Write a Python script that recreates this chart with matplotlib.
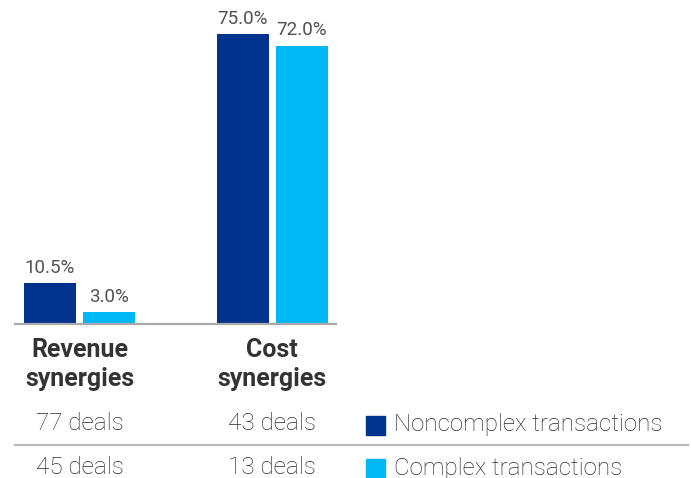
import matplotlib.pyplot as plt
import matplotlib.transforms as mtransforms
from matplotlib.patches import Rectangle

categories = ['Revenue\nsynergies', 'Cost\nsynergies']
noncomplex = [10.5, 75.0]
complex_ = [3.0, 72.0]
noncomplex_deals = ['77 deals', '43 deals']
complex_deals = ['45 deals', '13 deals']
series_names = ['Noncomplex transactions', 'Complex transactions']

DARK = '#00338D'
LIGHT = '#00B8F5'
W, H = 691, 478

plt.rcParams['font.family'] = ['Roboto', 'DejaVu Sans']

fig = plt.figure(figsize=(W / 100, H / 100), dpi=100)

def fy(py):
    # pixel row from the top -> figure fraction
    return 1 - py / H

# axes: x 15..336 px, baseline at y=324, 0..80 % mapped to 309 px
ax = fig.add_axes([15 / W, fy(324), (336 - 15) / W, 309.3 / H])
ax.set_ylim(0, 80)
ax.set_xlim(-0.335, 1.332)

x = list(range(len(categories)))
off = 0.153
wid = 0.27
b1 = ax.bar([i - off for i in x], noncomplex, wid, color=DARK)
b2 = ax.bar([i + off for i in x], complex_, wid, color=LIGHT)

for bars, vals in ((b1, noncomplex), (b2, complex_)):
    for r, v in zip(bars, vals):
        ax.text(r.get_x() + r.get_width() / 2, v + 1.6, f'{v:.1f}%',
                ha='center', va='bottom', fontsize=13.5, color='#505050')

for s in ['top', 'right', 'left']:
    ax.spines[s].set_visible(False)
ax.spines['bottom'].set_color('#aaaaaa')
ax.spines['bottom'].set_linewidth(1.6)
ax.set_yticks([])
ax.set_xticks(x)
ax.set_xticklabels(categories, fontsize=18, fontweight='bold', color='#333333',
                   linespacing=1.28)
ax.tick_params(axis='x', length=0, pad=10)

# deal counts below the chart
trans = mtransforms.blended_transform_factory(ax.transData, fig.transFigure)
for i in x:
    ax.text(i, fy(424), noncomplex_deals[i], transform=trans, ha='center',
            va='center', fontsize=17.5, color='#2a2a2a', clip_on=False,
            fontweight='light')
    ax.text(i, fy(467), complex_deals[i], transform=trans, ha='center',
            va='center', fontsize=17.5, color='#2a2a2a', clip_on=False,
            fontweight='light')

# separator line
fig.add_artist(plt.Line2D([15 / W, 688 / W], [fy(445), fy(445)],
                          color='#bbbbbb', linewidth=1.6))

# legend
for name, col, py in ((series_names[0], DARK, 425), (series_names[1], LIGHT, 468)):
    fig.add_artist(Rectangle((366 / W, fy(py + 9.5)), 19 / W, 19 / H,
                             color=col, transform=fig.transFigure))
    fig.text(394 / W, fy(py), name, ha='left', va='center', fontsize=17.4,
             color='#2a2a2a', fontweight='light')

fig.savefig('out.png', dpi=100)
